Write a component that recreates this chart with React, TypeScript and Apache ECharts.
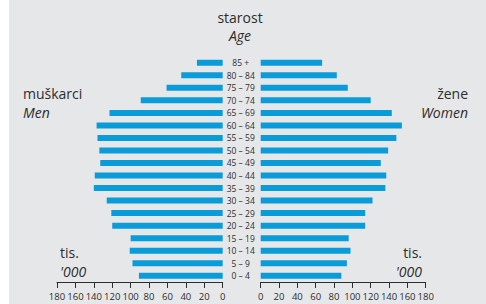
import React, { useEffect, useRef } from "react";
import * as echarts from "echarts";

const ages = ["85 +", "80 – 84", "75 – 79", "70 – 74", "65 – 69", "60 – 64", "55 – 59", "50 – 54", "45 – 49", "40 – 44", "35 – 39", "30 – 34", "25 – 29", "20 – 24", "15 – 19", "10 – 14", "5 – 9", "0 – 4"];
const men = [28, 45, 61, 89, 123, 137, 136, 134, 133, 139, 140, 126, 121, 120, 100, 101, 98, 91];
const women = [67, 83, 95, 120, 143, 154, 148, 139, 131, 137, 136, 122, 114, 114, 96, 98, 94, 88];

const FONT = "'Open Sans', 'Noto Sans', sans-serif";
const TXT = "#2d2d2d";
const BLUE = "#0a9bd9";

export default function App() {
  const ref = useRef<HTMLDivElement>(null);
  useEffect(() => {
    if (!ref.current) return;
    const chart = echarts.init(ref.current, null, { renderer: "svg" });
    const axisCommon = {
      type: "value" as const,
      min: 0,
      max: 180,
      interval: 20,
      axisLine: { show: true, lineStyle: { color: TXT, width: 1 } },
      axisTick: { show: true, length: 6, lineStyle: { color: TXT } },
      splitLine: { show: false },
      axisLabel: { color: TXT, fontSize: 9.5, fontFamily: FONT, margin: 9 },
    };
    const t = (text: string, x: number, y: number, align: string, italic = false) => ({
      type: "text",
      x,
      y,
      style: {
        text,
        fill: TXT,
        font: `${italic ? "italic " : ""}14px ${FONT}`,
        textAlign: align,
        textVerticalAlign: "middle",
      },
    });
    chart.setOption({
      animation: false,
      backgroundColor: "transparent",
      graphic: [
        { type: "rect", z: -10, shape: { x: 9, y: 0, width: 477, height: 304 }, style: { fill: "#e6e7e9" } },
        t("starost", 240, 17, "center"),
        t("Age", 240, 35, "center", true),
        t("muškarci", 23, 93, "left"),
        t("Men", 23, 112, "left", true),
        t("žene", 468, 93, "right"),
        t("Women", 468, 112, "right", true),
        t("tis.", 60, 252, "left"),
        t("'000", 60, 271, "left", true),
        t("tis.", 422, 252, "right"),
        t("'000", 422, 271, "right", true),
      ],
      grid: [
        { left: 57, right: 263.3, top: 56.5, bottom: 22, containLabel: false },
        { left: 260.7, right: 60.3, top: 56.5, bottom: 22, containLabel: false },
      ],
      xAxis: [
        { ...axisCommon, gridIndex: 0, inverse: true },
        { ...axisCommon, gridIndex: 1 },
      ],
      yAxis: [
        {
          type: "category",
          gridIndex: 0,
          data: ages,
          inverse: true,
          position: "right",
          axisLine: { show: false },
          axisTick: { show: false },
          axisLabel: { align: "center", margin: 18, fontSize: 8.5, color: TXT, fontFamily: FONT },
        },
        {
          type: "category",
          gridIndex: 1,
          data: ages,
          inverse: true,
          axisLine: { show: false },
          axisTick: { show: false },
          axisLabel: { show: false },
        },
      ],
      series: [
        { type: "bar", xAxisIndex: 0, yAxisIndex: 0, data: men, barWidth: 6, itemStyle: { color: BLUE } },
        { type: "bar", xAxisIndex: 1, yAxisIndex: 1, data: women, barWidth: 6, itemStyle: { color: BLUE } },
      ],
    });
    return () => chart.dispose();
  }, []);
  return (
    <div style={{ position: "fixed", left: 0, top: 0, width: 486, height: 304, background: "#fff" }}>
      <div ref={ref} style={{ width: 486, height: 304 }} />
    </div>
  );
}
